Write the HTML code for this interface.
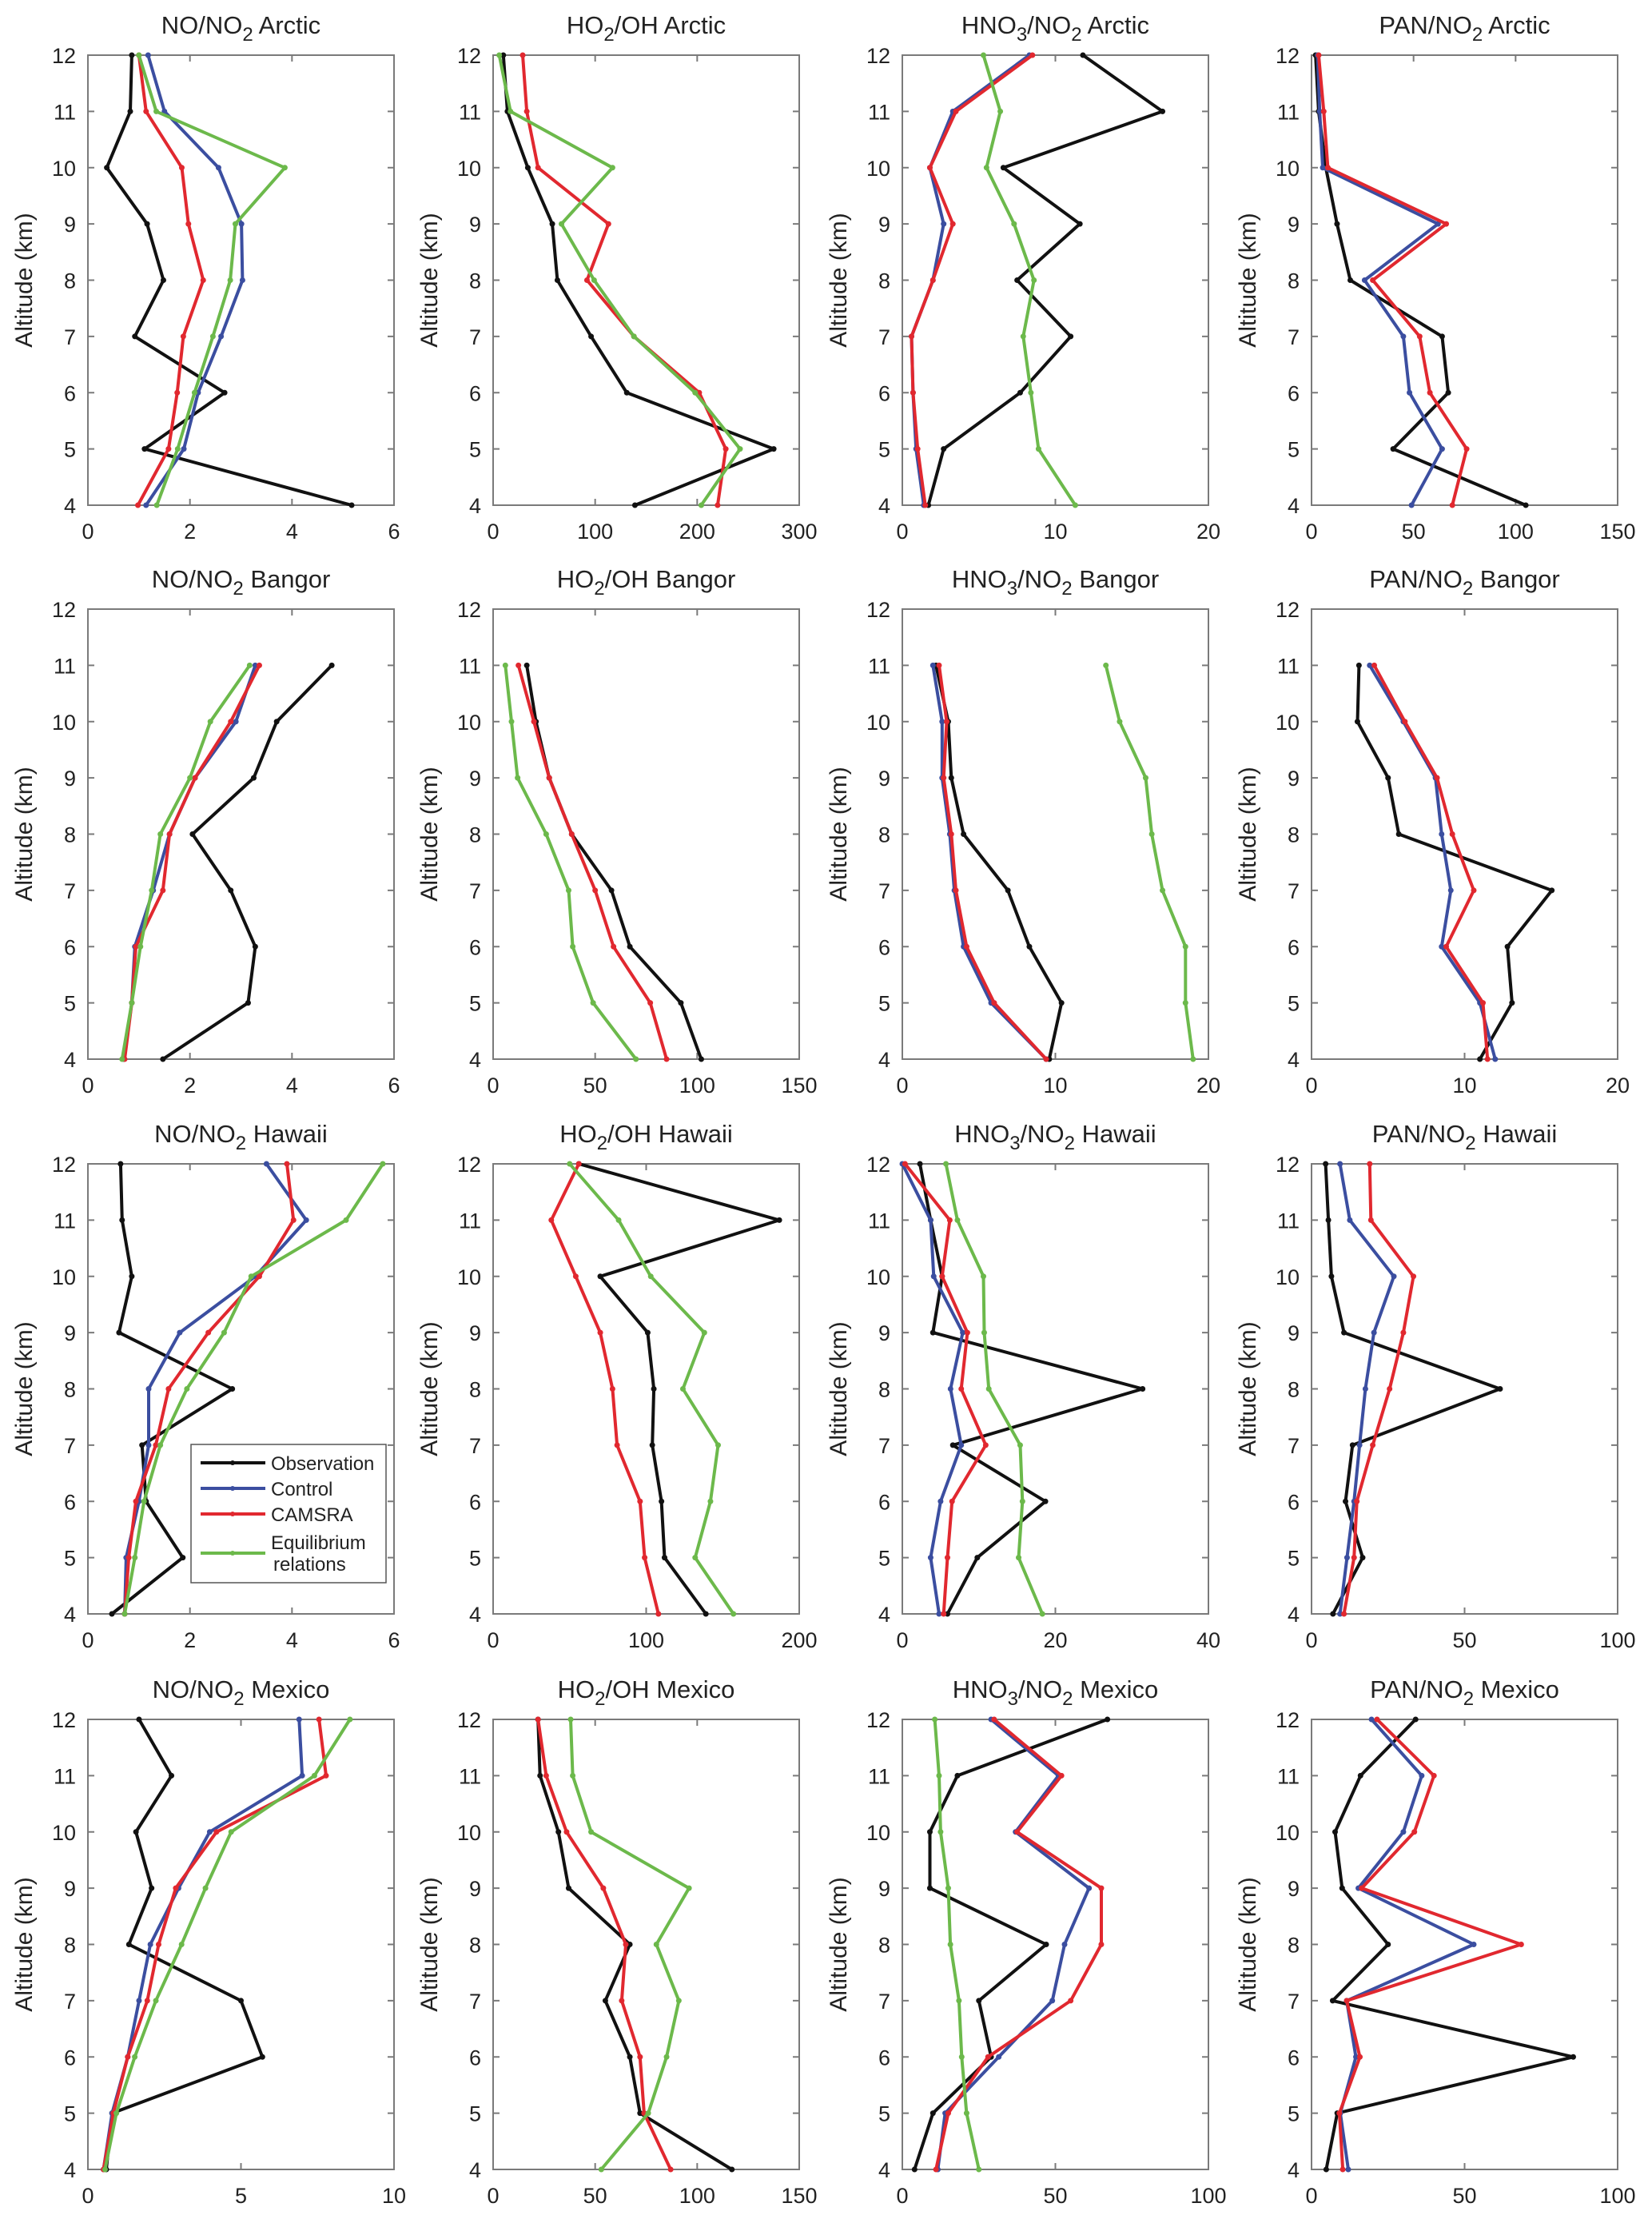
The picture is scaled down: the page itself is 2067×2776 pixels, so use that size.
<!DOCTYPE html>
<html><head><meta charset="utf-8">
<style>
html,body{margin:0;padding:0;background:#fff;}
svg{display:block;font-family:"Liberation Sans",Arial,sans-serif;}
</style></head>
<body>
<svg id="fig" width="2067" height="2776" viewBox="0 0 2067 2776" xmlns="http://www.w3.org/2000/svg"></svg>
<script>
// Panel layout data (titles, ranges)
const titles = [
 ["NO/NO","2"," Arctic"],["HO","2","/OH Arctic"],["HNO","3","/NO|2| Arctic"],["PAN/NO","2"," Arctic"],
 ["NO/NO","2"," Bangor"],["HO","2","/OH Bangor"],["HNO","3","/NO|2| Bangor"],["PAN/NO","2"," Bangor"],
 ["NO/NO","2"," Hawaii"],["HO","2","/OH Hawaii"],["HNO","3","/NO|2| Hawaii"],["PAN/NO","2"," Hawaii"],
 ["NO/NO","2"," Mexico"],["HO","2","/OH Mexico"],["HNO","3","/NO|2| Mexico"],["PAN/NO","2"," Mexico"]
];
const xMax = [6,300,20,150, 6,150,20,20, 6,200,40,100, 10,150,100,100];
const xTicks = [[0,2,4,6],[0,100,200,300],[0,10,20],[0,50,100,150],
 [0,2,4,6],[0,50,100,150],[0,10,20],[0,10,20],
 [0,2,4,6],[0,100,200],[0,20,40],[0,50,100],
 [0,5,10],[0,50,100,150],[0,50,100],[0,50,100]];
const yTicks = [4,5,6,7,8,9,10,11,12];
const altFull = [12,11,10,9,8,7,6,5,4];
const altBangor = [11,10,9,8,7,6,5,4];
const seriesNames = ["Observation","Control","CAMSRA","Equilibrium relations"];
const seriesColors = ["#111111","#3b4ea0","#e1282f","#6cb94b"];

// Observation (black)
const obs = [
 [0.86,0.83,0.37,1.16,1.48,0.92,2.68,1.11,5.17],
 [10,14,34,58,63,96,131,275,139],
 [11.8,17,6.6,11.6,7.5,11.0,7.7,2.7,1.7],
 [2,3.5,7,12.5,19,64,67,40,105],
 [4.78,3.7,3.25,2.05,2.8,3.28,3.14,1.47],
 [16.5,21,27.5,38.5,58,67,92,102],
 [2.2,3.0,3.2,4.0,6.9,8.3,10.4,9.6],
 [3.1,3.0,5.0,5.7,15.7,12.8,13.1,11.0],
 [0.64,0.67,0.86,0.61,2.83,1.06,1.14,1.86,0.47],
 [56,187,70,101,105,104,110,112,139],
 [2.3,3.7,5.2,4.0,31.4,6.6,18.7,9.8,5.9],
 [4.6,5.5,6.5,10.6,61.6,13.4,11.1,16.7,7],
 [1.67,2.73,1.57,2.08,1.34,5.0,5.7,0.79,0.6],
 [22,23,32,37,67,55,67,72,117],
 [67,18,9,9,47,25,29,10,4],
 [34,16,7.7,10,25,6.9,85.5,8.4,4.8]
];
// Control (blue)
const ctrl = [
 [1.18,1.5,2.56,3.01,3.03,2.61,2.16,1.88,1.14],
 null,
 [8.3,3.3,1.8,2.7,2.0,0.6,0.7,0.9,1.4],
 [3,4,5.5,62,26,45,48,64,49],
 [3.28,2.9,2.1,1.6,1.28,0.92,0.86,0.7],
 null,
 [2.0,2.6,2.6,3.1,3.4,4.0,5.8,9.4],
 [3.8,6.0,8.1,8.5,9.1,8.5,11.0,12.0],
 [3.5,4.28,3.28,1.8,1.19,1.19,1.0,0.75,0.72],
 null,
 [0,3.7,4.1,7.9,6.3,7.7,5.0,3.7,4.8],
 [9.3,12.5,26.9,20.4,17.6,15.7,13.9,11.6,9.3],
 [6.9,7.0,3.98,2.96,2.04,1.67,1.3,0.79,0.51],
 null,
 [29,51,37,61,53,49,31.5,14,11.6],
 [19.6,36,30,15.3,53,11.5,14.5,9.4,12]
];
// CAMSRA (red)
const cams = [
 [1.0,1.14,1.84,1.97,2.26,1.87,1.75,1.58,0.98],
 [29,33,44,113,92,138,202,228,220],
 [8.5,3.5,1.8,3.3,2.0,0.6,0.7,1.0,1.5],
 [3.5,6,8,66,30,53,58,76,69],
 [3.36,2.8,2.1,1.6,1.47,0.94,0.86,0.72],
 [12.4,20,27.5,38.5,50,59,77,85],
 [2.4,2.9,2.7,3.2,3.5,4.2,6.0,9.4],
 [4.1,6.1,8.2,9.2,10.6,8.8,11.2,11.5],
 [3.9,4.03,3.36,2.36,1.58,1.33,0.94,0.8,0.72],
 [56,38,54,70,78,81,96,99,108],
 [0.35,6.2,5.2,8.5,7.7,10.9,6.5,5.9,5.4],
 [19,19.4,33.3,30,25.5,20,14.8,13.9,10.6],
 [7.55,7.78,4.2,2.87,2.31,1.94,1.3,0.83,0.51],
 [22,26,36,54,65,63,72,74,87],
 [30,52,37.5,65,65,55,28,15,11],
 [21.4,40,33.6,16.4,68.5,11.5,15.8,9.1,10.2]
];
// Equilibrium relations (green)
const equi = [
 [1.0,1.34,3.86,2.89,2.79,2.45,2.09,1.76,1.35],
 [6,17,117,67,99,138,198,242,204],
 [5.3,6.4,5.5,7.3,8.6,7.9,8.4,8.9,11.3],
 null,
 [3.17,2.4,2.0,1.42,1.25,1.03,0.86,0.67],
 [6,9,12,26,37,39,49,70],
 [13.3,14.2,15.9,16.3,17.0,18.5,18.5,19.0],
 null,
 [5.78,5.06,3.2,2.67,1.94,1.42,1.1,0.92,0.72],
 [50,82,103,138,124,147,142,132,157],
 [5.7,7.2,10.6,10.7,11.3,15.4,15.7,15.2,18.3],
 null,
 [8.56,7.4,4.68,3.84,3.06,2.22,1.53,0.93,0.56],
 [38,39,48,96,80,91,85,76,53],
 [10.6,12,12.5,15,15.7,18.5,19.4,21,25],
 null
];

const NS = "http://www.w3.org/2000/svg";
const svg = document.getElementById('fig');
const colLeft = [110, 617, 1129, 1641];
const rowTop = [69, 762, 1456, 2151];
const PW = 383, PH = 563;
function mk(tag, attrs, parent){
  const e = document.createElementNS(NS, tag);
  for (const k in attrs) e.setAttribute(k, attrs[k]);
  (parent||svg).appendChild(e);
  return e;
}
for (let p = 0; p < 16; p++) {
  const L = colLeft[p%4], T = rowTop[Math.floor(p/4)];
  const g = mk('g', {});
  
  
  const xs = v => L + v / xMax[p] * PW;
  const ys = a => T + PH - (a - 4) / 8 * PH;
  // frame
  const fr = mk('rect', {x:L, y:T, width:PW, height:PH, fill:'none', stroke:'#7a7a7a', 'stroke-width':2}, g);
  
  
  // y ticks
  yTicks.forEach(t => {
    const y = ys(t);
    mk('line', {x1:L, x2:L+8, y1:y, y2:y, stroke:'#7a7a7a', 'stroke-width':2}, g);
    mk('line', {x1:L+PW-8, x2:L+PW, y1:y, y2:y, stroke:'#7a7a7a', 'stroke-width':2}, g);
    const tx = mk('text', {x:L-15, y:y+10, 'font-size':27, 'text-anchor':'end', fill:'#222'}, g);
    tx.textContent = t;
    
    
  });
  xTicks[p].forEach(t => {
    const x = xs(t);
    mk('line', {x1:x, x2:x, y1:T+PH, y2:T+PH-8, stroke:'#7a7a7a', 'stroke-width':2}, g);
    mk('line', {x1:x, x2:x, y1:T, y2:T+8, stroke:'#7a7a7a', 'stroke-width':2}, g);
    const tx = mk('text', {x:x, y:T+PH+42, 'font-size':27, 'text-anchor':'middle', fill:'#222'}, g);
    tx.textContent = t;
    
    
  });
  // y label
  const yl = mk('text', {x:0, y:0, 'font-size':30, 'text-anchor':'middle', fill:'#222',
    transform:`translate(${L-70},${T+PH/2}) rotate(-90)`}, g);
  yl.textContent = 'Altitude (km)';
  
  
  // title
  const tt = mk('text', {x:L+PW/2, y:T-27, 'font-size':31, 'text-anchor':'middle', fill:'#222'}, g);
  
  
  const parts = titles[p];
  const addSpan = (txt, sub) => {
    const s = mk('tspan', sub ? {'font-size':24, dy:9} : {}, tt);
    s.textContent = txt;
    return s;
  };
  addSpan(parts[0], false);
  addSpan(parts[1], true);
  const rest = parts[2].split('|');
  const s1 = mk('tspan', {dy:-9}, tt); s1.textContent = rest[0];
  if (rest.length > 1) {
    const s2 = mk('tspan', {'font-size':24, dy:9}, tt); s2.textContent = rest[1];
    const s3 = mk('tspan', {dy:-9}, tt); s3.textContent = rest[2];
  }
  // series
  const alts = (p >= 4 && p <= 7) ? altBangor : altFull;
  [obs, ctrl, cams, equi].forEach((arr, si) => {
    const vals = arr[p];
    if (!vals) return;
    const pts = vals.map((v, i) => xs(v).toFixed(1) + ',' + ys(alts[i]).toFixed(1)).join(' ');
    const pl = mk('polyline', {points:pts, fill:'none', stroke:seriesColors[si], 'stroke-width':4, 'stroke-linejoin':'round'}, g);
    
    
    vals.forEach((v, i) => {
      const c = mk('circle', {cx:xs(v), cy:ys(alts[i]), r:3.5, fill:seriesColors[si]}, g);
      
      
    });
  });
}
// legend in Hawaii NO/NO2 panel
const lg = mk('g', {});


mk('rect', {x:239, y:1807, width:244, height:173, fill:'#fff', stroke:'#555', 'stroke-width':1.5}, lg);
const legY = [1830, 1862, 1894, 1943];
seriesNames.forEach((n, i) => {
  const ln = mk('line', {x1:251, x2:332, y1:legY[i], y2:legY[i], stroke:seriesColors[i], 'stroke-width':4}, lg);
  
  
  mk('circle', {cx:291, cy:legY[i], r:3, fill:seriesColors[i]}, lg);
  const t = mk('text', {x:339, y:legY[i]+9, 'font-size':24, fill:'#222'}, lg);
  
  
  if (i === 3) {
    t.setAttribute('y', 1938);
    const a = mk('tspan', {x:339}, t); a.textContent = 'Equilibrium';
    const b = mk('tspan', {x:342, dy:27}, t); b.textContent = 'relations';
  } else {
    t.textContent = n;
  }
});
</script>
</body></html>
